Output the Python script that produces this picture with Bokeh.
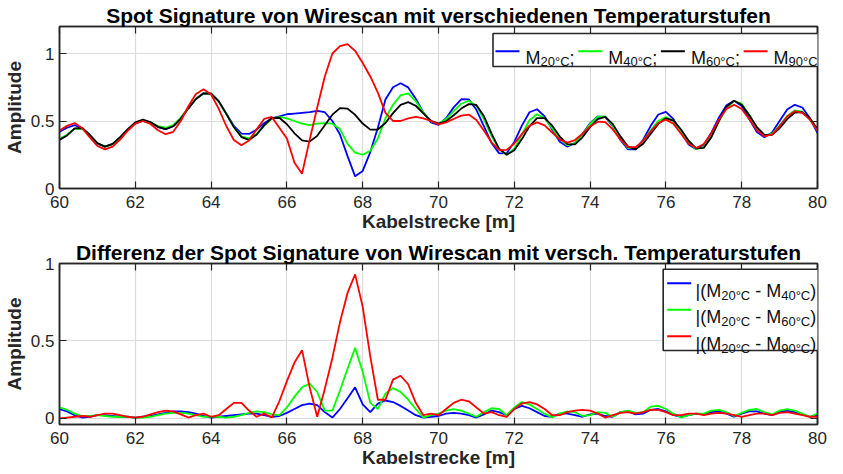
import numpy as np
from bokeh.plotting import figure
from bokeh.models import (Range1d, FixedTicker, LinearAxis, NumeralTickFormatter,
                          Label, BoxAnnotation)
from bokeh.layouts import column
from bokeh.embed import file_html
from bokeh.resources import INLINE

# ------------------------------------------------------------------ data
dist = np.linspace(60.0, 80.0, 101)  # Kabelstrecke [m], sampled every 0.2 m

m20 = [0.42, 0.45, 0.47, 0.447, 0.39, 0.333, 0.31, 0.328, 0.376, 0.434,
       0.482, 0.50, 0.485, 0.455, 0.44, 0.461, 0.518, 0.594, 0.663, 0.705,
       0.703, 0.646, 0.555, 0.464, 0.407, 0.404, 0.436, 0.483, 0.52, 0.535,
       0.55, 0.555, 0.56, 0.565, 0.575, 0.565, 0.50, 0.40, 0.24, 0.09,
       0.13, 0.27, 0.45, 0.66, 0.75, 0.78, 0.749, 0.665, 0.563, 0.489,
       0.472, 0.52, 0.601, 0.661, 0.66, 0.583, 0.46, 0.337, 0.26, 0.262,
       0.345, 0.466, 0.565, 0.587, 0.534, 0.437, 0.346, 0.31, 0.337, 0.405,
       0.483, 0.533, 0.53, 0.46, 0.36, 0.29, 0.29, 0.361, 0.464, 0.548,
       0.567, 0.514, 0.417, 0.326, 0.29, 0.324, 0.414, 0.526, 0.616, 0.65,
       0.611, 0.515, 0.419, 0.38, 0.415, 0.50, 0.585, 0.62, 0.60, 0.52,
       0.41]
m40 = [0.37, 0.398, 0.442, 0.443, 0.395, 0.335, 0.31, 0.328, 0.376, 0.434,
       0.482, 0.50, 0.488, 0.462, 0.45, 0.47, 0.525, 0.598, 0.665, 0.705,
       0.702, 0.645, 0.554, 0.455, 0.387, 0.372, 0.405, 0.466, 0.516, 0.53,
       0.52, 0.50, 0.48, 0.47, 0.48, 0.485, 0.48, 0.44, 0.33, 0.265,
       0.25, 0.28, 0.37, 0.52, 0.62, 0.69, 0.705, 0.646, 0.564, 0.497,
       0.48, 0.514, 0.573, 0.628, 0.65, 0.612, 0.512, 0.388, 0.288, 0.25,
       0.294, 0.40, 0.506, 0.55, 0.52, 0.446, 0.366, 0.32, 0.336, 0.399,
       0.478, 0.532, 0.535, 0.463, 0.367, 0.30, 0.297, 0.35, 0.431, 0.502,
       0.53, 0.499, 0.422, 0.338, 0.292, 0.309, 0.387, 0.498, 0.597, 0.647,
       0.628, 0.546, 0.447, 0.392, 0.406, 0.466, 0.538, 0.578, 0.57, 0.51,
       0.43]
m60 = [0.36, 0.393, 0.446, 0.448, 0.398, 0.336, 0.31, 0.33, 0.38, 0.44,
       0.49, 0.51, 0.4925, 0.457, 0.44, 0.461, 0.518, 0.594, 0.663, 0.705,
       0.703, 0.647, 0.553, 0.455, 0.381, 0.36, 0.398, 0.468, 0.522, 0.524,
       0.476, 0.409, 0.356, 0.348, 0.39, 0.469, 0.547, 0.595, 0.592, 0.546,
       0.481, 0.436, 0.437, 0.485, 0.558, 0.62, 0.64, 0.613, 0.557, 0.502,
       0.48, 0.498, 0.542, 0.592, 0.625, 0.619, 0.535, 0.407, 0.294, 0.25,
       0.283, 0.366, 0.46, 0.522, 0.522, 0.465, 0.385, 0.328, 0.327, 0.379,
       0.454, 0.514, 0.53, 0.477, 0.386, 0.31, 0.29, 0.331, 0.405, 0.479,
       0.52, 0.503, 0.437, 0.354, 0.298, 0.301, 0.38, 0.501, 0.608, 0.65,
       0.62, 0.543, 0.455, 0.398, 0.397, 0.446, 0.514, 0.563, 0.565, 0.52,
       0.44]
m90 = [0.43, 0.464, 0.485, 0.446, 0.378, 0.315, 0.29, 0.31, 0.362, 0.428,
       0.48, 0.50, 0.478, 0.432, 0.402, 0.42, 0.50, 0.609, 0.70, 0.735,
       0.696, 0.592, 0.463, 0.359, 0.32, 0.356, 0.438, 0.515, 0.53, 0.45,
       0.37, 0.19, 0.11, 0.36, 0.60, 0.83, 1.00, 1.055, 1.07, 1.02,
       0.93, 0.83, 0.71, 0.56, 0.50, 0.50, 0.52, 0.53, 0.52, 0.50,
       0.475, 0.49, 0.515, 0.54, 0.548, 0.507, 0.428, 0.342, 0.284, 0.286,
       0.333, 0.403, 0.465, 0.49, 0.468, 0.415, 0.362, 0.34, 0.359, 0.406,
       0.46, 0.495, 0.492, 0.438, 0.362, 0.308, 0.306, 0.353, 0.423, 0.485,
       0.51, 0.479, 0.405, 0.331, 0.30, 0.33, 0.41, 0.51, 0.59, 0.62,
       0.589, 0.514, 0.432, 0.387, 0.401, 0.461, 0.533, 0.573, 0.56, 0.51,
       0.43]

d40 = [0.06, 0.045, 0.02, 0.005, 0.01, 0.02, 0.02, 0.015, 0.01, 0.01,
       0.005, 0.01, 0.015, 0.025, 0.035, 0.045, 0.045, 0.04, 0.03, 0.015,
       0.005, 0.01, 0.015, 0.02, 0.025, 0.03, 0.03, 0.02, 0.01, 0.015,
       0.035, 0.06, 0.085, 0.095, 0.085, 0.04, 0.005, 0.06, 0.13, 0.20,
       0.09, 0.04, 0.095, 0.115, 0.105, 0.08, 0.05, 0.02, 0.005, 0.01,
       0.015, 0.03, 0.035, 0.03, 0.02, 0.005, 0.025, 0.05, 0.04, 0.02,
       0.06, 0.08, 0.065, 0.04, 0.015, 0.01, 0.03, 0.03, 0.02, 0.01,
       0.025, 0.03, 0.015, 0.01, 0.04, 0.045, 0.025, 0.03, 0.055, 0.06,
       0.045, 0.02, 0.01, 0.02, 0.03, 0.025, 0.04, 0.045, 0.03, 0.01,
       0.03, 0.045, 0.045, 0.03, 0.02, 0.04, 0.05, 0.04, 0.025, 0.01,
       0.02]
d60 = [0.07, 0.055, 0.03, 0.015, 0.015, 0.02, 0.015, 0.01, 0.01, 0.01,
       0.005, 0.005, 0.01, 0.02, 0.03, 0.035, 0.035, 0.03, 0.02, 0.01,
       0.01, 0.01, 0.005, 0.01, 0.02, 0.035, 0.045, 0.04, 0.025, 0.02,
       0.07, 0.14, 0.20, 0.225, 0.17, 0.05, 0.05, 0.18, 0.32, 0.455,
       0.30, 0.10, 0.06, 0.16, 0.195, 0.17, 0.12, 0.06, 0.005, 0.02,
       0.03, 0.05, 0.06, 0.05, 0.03, 0.01, 0.04, 0.065, 0.06, 0.02,
       0.07, 0.105, 0.09, 0.06, 0.03, 0.005, 0.03, 0.045, 0.04, 0.015,
       0.02, 0.04, 0.035, 0.01, 0.04, 0.05, 0.035, 0.04, 0.075, 0.08,
       0.06, 0.03, 0.005, 0.02, 0.03, 0.03, 0.05, 0.055, 0.04, 0.015,
       0.035, 0.055, 0.06, 0.04, 0.025, 0.05, 0.06, 0.05, 0.03, 0.01,
       0.03]
d90 = [0.0, 0.005, 0.01, 0.015, 0.01, 0.02, 0.03, 0.03, 0.02, 0.01,
       0.005, 0.01, 0.025, 0.04, 0.05, 0.045, 0.025, 0.005, 0.02, 0.03,
       0.01, 0.02, 0.06, 0.10, 0.10, 0.05, 0.01, 0.03, 0.005, 0.11,
       0.24, 0.36, 0.44, 0.20, 0.01, 0.19, 0.39, 0.62, 0.81, 0.93,
       0.72, 0.40, 0.12, 0.12, 0.25, 0.275, 0.22, 0.10, 0.02, 0.03,
       0.02, 0.06, 0.10, 0.12, 0.11, 0.07, 0.03, 0.04, 0.02, 0.01,
       0.06, 0.095, 0.105, 0.09, 0.06, 0.02, 0.02, 0.04, 0.05, 0.055,
       0.05, 0.03, 0.005, 0.02, 0.035, 0.04, 0.03, 0.04, 0.055, 0.055,
       0.04, 0.02, 0.02, 0.03, 0.03, 0.02, 0.03, 0.035, 0.03, 0.02,
       0.01, 0.02, 0.03, 0.03, 0.02, 0.035, 0.04, 0.03, 0.02, 0.01,
       0.01]

x_ticks = [60, 62, 64, 66, 68, 70, 72, 74, 76, 78, 80]
y_ticks = [0, 0.5, 1]
top_subs = ["20°C", "40°C", "60°C", "90°C"]
bottom_subs = ["40°C", "60°C", "90°C"]

# ------------------------------------------------------------------ style
FONT = "Liberation Sans"
AX = "#262626"
TXT = "#111111"
BLUE, GREEN, BLACK, RED = "#0000ff", "#00ff00", "#000000", "#ff0000"


def style_axis(ax, ticks, labels=True):
    ax.ticker = FixedTicker(ticks=ticks)
    ax.axis_line_color = AX
    ax.axis_line_width = 1.5
    ax.major_tick_line_color = AX
    ax.major_tick_line_width = 1.2
    ax.major_tick_in = 7
    ax.major_tick_out = 0
    ax.minor_tick_line_color = None
    ax.major_label_text_font = FONT
    ax.major_label_text_color = AX
    if labels:
        ax.major_label_text_font_size = "17px"
    else:
        ax.major_label_text_font_size = "1px"
        ax.major_label_text_color = None
        ax.major_label_standoff = 0
    ax.axis_label_text_font = FONT
    ax.axis_label_text_font_size = "19px"
    ax.axis_label_text_font_style = "bold"
    ax.axis_label_text_color = AX


def make_fig(height, y0, y1, mb_top, mb_bottom, title):
    p = figure(width=827, height=height,
               x_range=Range1d(60, 80), y_range=Range1d(y0, y1),
               output_backend="svg", toolbar_location=None,
               min_border_left=51, min_border_right=10,
               min_border_top=mb_top, min_border_bottom=mb_bottom,
               background_fill_color="white", border_fill_color="white")
    p.outline_line_color = AX
    p.outline_line_width = 1.5
    p.title.text = title
    p.title.align = "center"
    p.title.text_font = FONT
    p.title.text_font_size = "21px"
    p.title.text_font_style = "bold"
    p.title.text_color = "#000000"
    p.title.standoff = 0

    xa_b = p.below[0]
    ya_l = p.left[0]
    xa_t = LinearAxis()
    ya_r = LinearAxis()
    p.add_layout(xa_t, "above")
    p.add_layout(ya_r, "right")
    style_axis(xa_b, x_ticks)
    style_axis(ya_l, y_ticks)
    style_axis(xa_t, x_ticks, labels=False)
    style_axis(ya_r, y_ticks, labels=False)
    xa_b.major_label_standoff = 7
    xa_b.axis_label = "Kabelstrecke [m]"
    xa_b.axis_label_standoff = 0
    ya_l.major_label_standoff = 5
    ya_l.axis_label = "Amplitude"
    ya_l.axis_label_standoff = 3
    ya_l.formatter = NumeralTickFormatter(format="0.[0]")

    p.xgrid.ticker = FixedTicker(ticks=x_ticks)
    p.ygrid.ticker = FixedTicker(ticks=y_ticks)
    p.grid.grid_line_color = "#dcdcdc"
    p.grid.grid_line_width = 1.2
    return p


def slabel(p, x, y, text, size):
    p.add_layout(Label(x=x, y=y, x_units="screen", y_units="screen", text=text,
                       text_font=FONT, text_font_size=size, text_color=TXT,
                       text_baseline="alphabetic", text_align="left"))


def sbox(p, left, right, bottom, top, fill, line=None, lw=0):
    p.add_layout(BoxAnnotation(left=left, right=right, bottom=bottom, top=top,
                               left_units="screen", right_units="screen",
                               bottom_units="screen", top_units="screen",
                               fill_color=fill, fill_alpha=1.0,
                               line_color=line, line_width=lw, line_alpha=1.0))


# ------------------------------------------------------------------ top plot
p1 = make_fig(236, 0, 1.2, 26, 48,
              "Spot Signature von Wirescan mit verschiedenen Temperaturstufen")
top_series = [m20, m40, m60, m90]
top_colors = [BLUE, GREEN, BLACK, RED]
for ys, c in zip(top_series, top_colors):
    p1.line(dist, ys, line_color=c, line_width=1.8)

# legend (one row)
sbox(p1, 433.5, 761.5, 122, 155, "white", AX, 1.6)
for i, (sub, c) in enumerate(zip(top_subs, top_colors)):
    x0 = 436 + i * 82.7
    sbox(p1, x0, x0 + 24, 136.3, 138.3, c)
    slabel(p1, x0 + 30, 131, "M", "18px")
    slabel(p1, x0 + 45, 127, sub, "13px")
    if i < 3:
        slabel(p1, x0 + 74, 131, ";", "18px")

# ------------------------------------------------------------------ bottom plot
p2 = make_fig(235, -0.04, 1.0, 27, 47,
              "Differenz der Spot Signature von Wirescan mit versch. Temperaturstufen")
bot_series = [d40, d60, d90]
bot_colors = [BLUE, GREEN, RED]
for ys, c in zip(bot_series, bot_colors):
    p2.line(dist, ys, line_color=c, line_width=1.8)

sbox(p2, 603.7, 763.7, 74, 155.3, "white", AX, 1.6)
for i, (sub, c) in enumerate(zip(bottom_subs, bot_colors)):
    ly = 141.3 - i * 26.5
    sbox(p2, 607.7, 631.7, ly - 1, ly + 1, c)
    slabel(p2, 636, ly - 7.5, "|(M", "18px")
    slabel(p2, 661.7, ly - 12, "20°C", "13px")
    slabel(p2, 695.7, ly - 7.5, "- M", "18px")
    slabel(p2, 721.7, ly - 12, sub, "13px")
    slabel(p2, 750.7, ly - 7.5, ")|", "18px")

layout = column(p1, p2)
open("out.html", "w").write(file_html(layout, INLINE))
